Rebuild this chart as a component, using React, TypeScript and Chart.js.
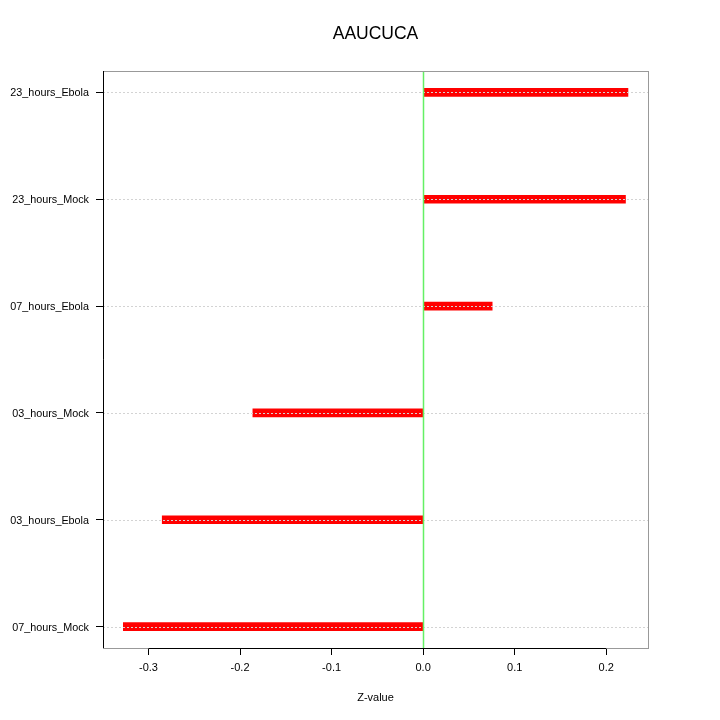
import React, { useEffect, useRef } from "react";
import { Chart, registerables } from "chart.js";

Chart.register(...registerables);

const title = "AAUCUCA";
const axisTitle = "Z-value";
const categories = ["07_hours_Mock", "03_hours_Ebola", "03_hours_Mock", "07_hours_Ebola", "23_hours_Mock", "23_hours_Ebola"];
const values = [-0.3275, -0.285, -0.186, 0.0754, 0.221, 0.2237];
const xTicks = [-0.3, -0.2, -0.1, 0.0, 0.1, 0.2];
const xMin = -0.3497;
const xMax = 0.2456;
const yMin = 0.8;
const yMax = 6.2;

const FONT = "'Liberation Sans', Arial, Helvetica, sans-serif";

const decor = {
  id: "decor",
  afterDraw(chart: any) {
    const { ctx, chartArea: a, scales } = chart;
    ctx.save();
    // dotted grid lines
    ctx.strokeStyle = "#d3d3d3";
    ctx.lineWidth = 1;
    ctx.setLineDash([2, 2]);
    categories.forEach((_, i) => {
      const y = Math.round(scales.y.getPixelForValue(i + 1)) + 0.5;
      ctx.beginPath();
      ctx.moveTo(a.left, y);
      ctx.lineTo(a.right, y);
      ctx.stroke();
    });
    ctx.setLineDash([]);
    // gray box
    ctx.strokeStyle = "#999999";
    ctx.strokeRect(Math.round(a.left) + 0.5, Math.round(a.top) + 0.5, Math.round(a.right - a.left), Math.round(a.bottom - a.top));
    // black axis lines
    ctx.strokeStyle = "#000000";
    const lx = Math.round(a.left) + 0.5;
    ctx.beginPath();
    ctx.moveTo(lx, a.top);
    ctx.lineTo(lx, a.bottom);
    ctx.stroke();
    const by = Math.round(a.bottom) + 0.5;
    ctx.beginPath();
    ctx.moveTo(scales.x.getPixelForValue(xTicks[0]), by);
    ctx.lineTo(scales.x.getPixelForValue(xTicks[xTicks.length - 1]), by);
    ctx.stroke();
    // zero line
    const x0 = Math.round(scales.x.getPixelForValue(0)) + 0.5;
    ctx.strokeStyle = "rgb(100, 240, 100)";
    ctx.lineWidth = 1.5;
    ctx.beginPath();
    ctx.moveTo(x0, a.top + 1);
    ctx.lineTo(x0, a.bottom);
    ctx.stroke();
    // title
    ctx.fillStyle = "#000";
    ctx.textAlign = "center";
    ctx.textBaseline = "middle";
    ctx.font = `17.5px ${FONT}`;
    ctx.fillText(title, (a.left + a.right) / 2, 34);
    ctx.font = `11px ${FONT}`;
    ctx.fillText(axisTitle, (a.left + a.right) / 2, 698);
    ctx.restore();
  },
};

export default function App() {
  const ref = useRef<HTMLCanvasElement>(null);
  useEffect(() => {
    document.body.style.margin = "0";
    const chart = new Chart(ref.current!, {
      type: "bar",
      data: {
        datasets: [
          {
            data: values.map((v, i) => ({ x: v, y: i + 1 })),
            backgroundColor: "#ff0000",
            borderWidth: 0,
            barThickness: 8,
          },
        ],
      },
      options: {
        indexAxis: "y",
        animation: false,
        responsive: false,
        layout: { padding: { top: 71, right: 72, left: 0, bottom: 0 } },
        plugins: { legend: { display: false }, tooltip: { enabled: false }, title: { display: false } },
        scales: {
          x: {
            type: "linear",
            min: xMin,
            max: xMax,
            offset: false,
            afterBuildTicks: (s: any) => {
              s.ticks = xTicks.map((v) => ({ value: v }));
            },
            afterFit: (s: any) => {
              s.height = 72;
            },
            ticks: {
              color: "#000",
              font: { family: FONT, size: 11 },
              padding: 6,
              maxRotation: 0,
              autoSkip: false,
              callback: (v: any) => (Math.abs(Number(v)) < 1e-9 ? "0.0" : Number(v).toFixed(1)),
            },
            grid: { drawOnChartArea: false, drawTicks: true, tickLength: 7, color: "#000", offset: false },
            border: { display: false },
          },
          y: {
            type: "linear",
            min: yMin,
            max: yMax,
            offset: false,
            afterBuildTicks: (s: any) => {
              s.ticks = categories.map((_, i) => ({ value: i + 1 }));
            },
            afterFit: (s: any) => {
              s.width = 103;
            },
            ticks: {
              color: "#000",
              font: { family: FONT, size: 10.8 },
              padding: 7,
              labelOffset: 1,
              autoSkip: false,
              callback: (v: any) => categories[Math.round(Number(v)) - 1] ?? "",
            },
            grid: { drawOnChartArea: false, drawTicks: true, tickLength: 7, color: "#000", offset: false },
            border: { display: false },
          },
        },
      },
      plugins: [decor],
    } as any);
    return () => chart.destroy();
  }, []);
  return (
    <div style={{ position: "absolute", left: 0, top: 0, width: 720, height: 720 }}>
      <canvas ref={ref} width={720} height={720} style={{ width: 720, height: 720 }} />
    </div>
  );
}
